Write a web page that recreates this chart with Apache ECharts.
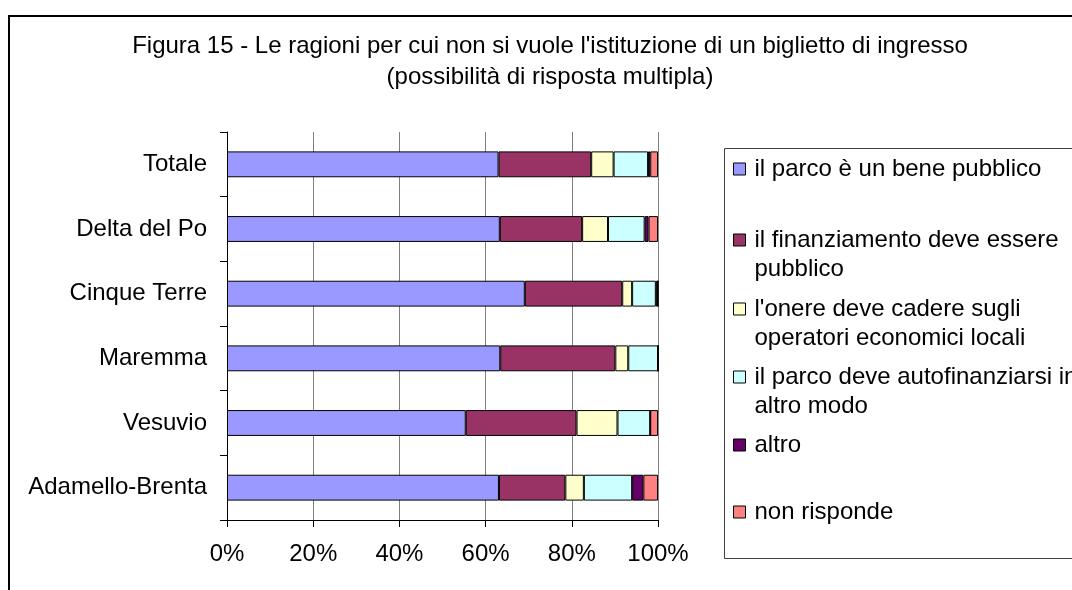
<!DOCTYPE html>
<html>
<head>
<meta charset="utf-8">
<script src="https://cdn.jsdelivr.net/npm/echarts@6/dist/echarts.min.js"></script>
<style>
	html, body { margin: 0; padding: 0; background: #fff; }
</style>
</head>
<body>
<div id="main" style="width: 1072px; height: 590px;"></div>
<script>
	// categorie, dal basso verso l'alto
	var parchi = ["Adamello-Brenta", "Vesuvio", "Maremma", "Cinque Terre", "Delta del Po", "Totale"];

	var benePubblico = [63.1, 55.4, 63.4, 69.1, 63.3, 63.0];
	var finanziamentoPubblico = [15.4, 25.7, 26.7, 22.6, 19.1, 21.5];
	var onereOperatori = [4.3, 9.5, 3.0, 2.3, 6.0, 5.2];
	var autofinanziarsi = [11.2, 7.6, 6.9, 5.5, 8.5, 8.0];
	var altro = [2.6, 0, 0, 0.5, 0.9, 0.5];
	var nonRisponde = [3.4, 1.8, 0, 0, 2.2, 1.8];

	var tickPercento = [0, 20, 40, 60, 80, 100];

	var nomi = [
		"il parco è un bene pubblico",
		"il finanziamento deve essere\npubblico",
		"l'onere deve cadere sugli\noperatori economici locali",
		"il parco deve autofinanziarsi in\naltro modo",
		"altro",
		"non risponde"
	];
	var colori = ["#9999FF", "#993366", "#FFFFCC", "#CCFFFF", "#660066", "#FF8080"];
	var valori = [benePubblico, finanziamentoPubblico, onereOperatori, autofinanziarsi, altro, nonRisponde];

	// centro del quadratino di ogni voce di legenda
	var legendaY = [169, 240, 309, 377, 445, 512];
	var interlinea = 29;

	var myChart = echarts.init(document.getElementById("main"));

	var series = nomi.map(function(nome, i) {
		return {
			name: nome,
			type: "bar",
			stack: "totale",
			barWidth: "40%",
			itemStyle: {
				color: colori[i],
				borderColor: "#000",
				borderWidth: 1
			},
			data: valori[i]
		};
	});

	// il quadratino sta sulla prima riga: alle voci su due righe si aggiunge una riga vuota sopra
	var legende = nomi.map(function(nome, i) {
		var dueRighe = nome.indexOf("\n") >= 0;
		var altezza = dueRighe ? 3 * interlinea : interlinea;
		return {
			orient: "vertical",
			left: 733,
			top: legendaY[i] - altezza / 2,
			padding: 0,
			icon: "rect",
			itemWidth: 12,
			itemHeight: 12,
			itemStyle: { borderColor: "#000", borderWidth: 1 },
			selectedMode: false,
			formatter: function(n) {
				return n.indexOf("\n") >= 0 ? " \n" + n : n;
			},
			textStyle: {
				fontSize: 24,
				lineHeight: interlinea,
				color: "#000",
				fontFamily: "Liberation Sans",
				padding: [0, 0, 0, 4]
			},
			data: [nome]
		};
	});

	var option = {
		backgroundColor: "#fff",
		animation: false,
		textStyle: { fontFamily: "Liberation Sans" },
		title: {
			text: "Figura 15 - Le ragioni per cui non si vuole l'istituzione di un biglietto di ingresso\n(possibilità di risposta multipla)",
			left: 550,
			top: 31,
			padding: 0,
			textAlign: "center",
			textStyle: {
				fontSize: 24,
				fontWeight: "normal",
				lineHeight: 31,
				color: "#000",
				fontFamily: "Liberation Sans"
			}
		},
		legend: legende,
		grid: {
			left: 227,
			right: 414,
			top: 132,
			bottom: 70
		},
		xAxis: {
			type: "value",
			min: tickPercento[0],
			max: tickPercento[tickPercento.length - 1],
			interval: tickPercento[1] - tickPercento[0],
			axisLine: { show: true, lineStyle: { color: "#000", width: 1 } },
			axisTick: { show: true, length: 7, lineStyle: { color: "#000" } },
			axisLabel: {
				formatter: "{value}%",
				fontSize: 24,
				color: "#000",
				margin: 22
			},
			splitLine: { show: true, lineStyle: { color: "#808080", width: 1 } }
		},
		yAxis: {
			type: "category",
			data: parchi,
			axisLine: { show: true, lineStyle: { color: "#000", width: 1 } },
			axisTick: { show: true, length: 7, lineStyle: { color: "#000" } },
			axisLabel: {
				fontSize: 24,
				color: "#000",
				margin: 20
			},
			splitLine: { show: false }
		},
		graphic: [
			{
				type: "rect",
				shape: { x: 9, y: 16, width: 1100, height: 620 },
				style: { fill: "none", stroke: "#000", lineWidth: 2 },
				silent: true
			},
			{
				type: "rect",
				shape: { x: 724.5, y: 148.5, width: 400, height: 410 },
				style: { fill: "none", stroke: "#404040", lineWidth: 1 },
				silent: true
			}
		],
		series: series
	};

	myChart.setOption(option);
</script>
</body>
</html>
